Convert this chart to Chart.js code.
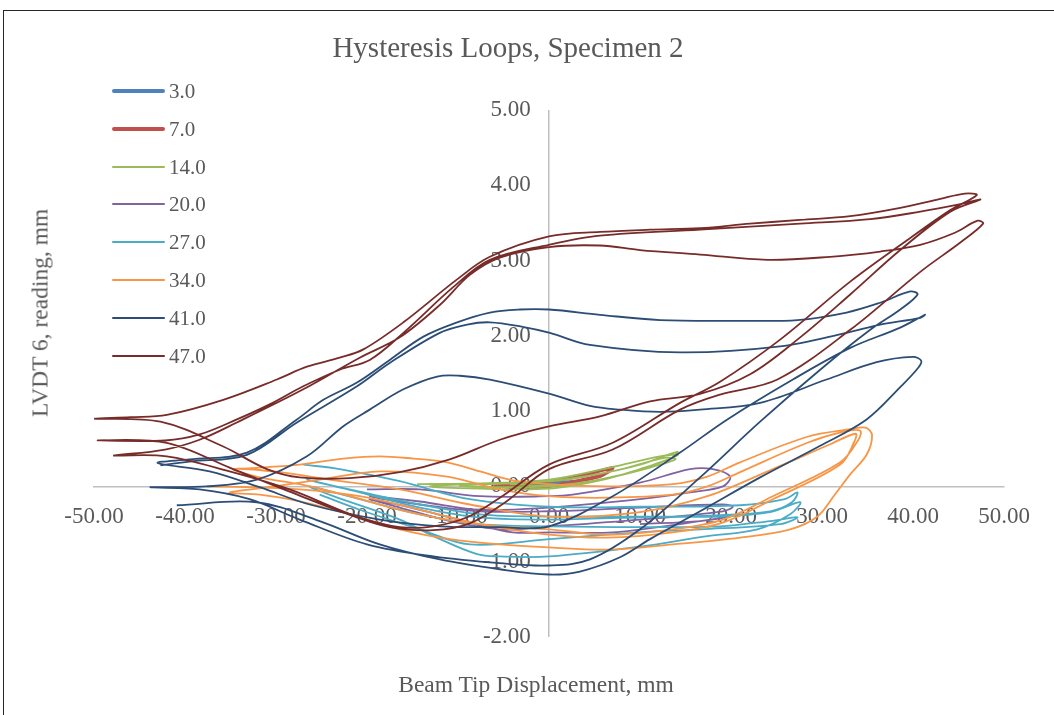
<!DOCTYPE html>
<html>
<head>
<meta charset="utf-8">
<script src="https://cdn.jsdelivr.net/npm/chart.js@4.4.1/dist/chart.umd.min.js"></script>
<style>
  html, body { margin: 0; padding: 0; background: #fff; }
  #page { position: relative; width: 1054px; height: 715px; overflow: hidden;
          font-family: "Liberation Serif", "Times New Roman", serif; color: #595959; }
  #frame { position: absolute; left: 3px; top: 10px; width: 1100px; height: 800px; border: 1px solid #262626; }
  canvas { position: absolute; left: 0; top: 0; }
  .txt { position: absolute; white-space: nowrap; transform: translate(-50%, -50%); }
  #title { left: 508px; top: 47px; font-size: 29px; }
  #xtitle { left: 536px; top: 684px; font-size: 23.5px; }
  #ytitle { left: 40px; top: 313px; font-size: 23.5px; transform: translate(-50%, -50%) rotate(-90deg); }
  .leg { position: absolute; left: 112px; height: 30px; display: flex; align-items: center; font-size: 21px; }
  .leg i { display: block; width: 53px; margin-right: 4px; border-radius: 2px; }
</style>
</head>
<body>
<div id="page">
  <div id="frame"></div>
  <canvas id="chart" width="1054" height="715"></canvas>
  <div id="title" class="txt">Hysteresis Loops, Specimen 2</div>
  <div id="xtitle" class="txt">Beam Tip Displacement, mm</div>
  <div id="ytitle" class="txt">LVDT 6, reading, mm</div>
  <div id="legend"></div>
</div>
<script>
// Serien-Namen, Farben und Linienstärken (Reihenfolge wie in der Legende)
const seriesNames  = ['3.0', '7.0', '14.0', '20.0', '27.0', '34.0', '41.0', '47.0'];
const seriesColors = ['#4F81BD', '#C0504D', '#9BBB59', '#8064A2', '#4BACC6', '#F79646', '#2C4D75', '#772C2A'];
const seriesWidths = [3, 3, 1.8, 1.8, 1.8, 1.8, 1.8, 1.8];

// Achsen-Ticks
const xTicks = [-50, -40, -30, -20, -10, 0, 10, 20, 30, 40, 50];
const yTicks = [-2, -1, 0, 1, 2, 3, 4, 5];

// Messpunkte [Beam Tip Displacement, LVDT 6] je Zyklus
const loop3 = [[-3.0,0.02],[0,0.04],[3.0,0.07],[2.0,0.05],[0,0.01],[-3.0,0.0],[-2.5,0.02]];

const loop7 = [[-5.4,0.03],[0,0.07],[3.4,0.13],[7.0,0.25],[6.2,0.17],[2.9,0.07],[0,0.00],[-4.3,-0.01],
  [-5.9,0.01],[-2.1,0.04],[2.3,0.11],[6.7,0.23],[5.6,0.13],[1.2,0.03]];

const loop14 = [[-14.5,0.03],[-7.6,0.04],[0,0.07],[5.6,0.17],[10.0,0.29],[14.1,0.46],[13.5,0.38],[10.0,0.23],
  [5.6,0.08],[0,-0.03],[-7.6,-0.03],[-13.1,0.00],[-8.7,0.03],[0,0.09],[6.7,0.25],[12.2,0.40],[14.2,0.42],
  [12.2,0.32],[7.8,0.15],[1.2,0.01],[-5.4,-0.01],[-9.8,0.01],[-4.3,0.04],[1.2,0.08],[7.3,0.21],[12.7,0.38],
  [13.9,0.36],[11.1,0.25],[5.6,0.09],[0,0.01],[-4.3,0.03]];

const loop20 = [[-20.0,-0.04],[-14.2,-0.04],[-7.6,-0.13],[0,-0.13],[2.6,-0.11],[10.0,0.05],[15.5,0.23],[18.0,0.23],
  [19.9,0.13],[19.1,0.00],[15.5,-0.08],[10.0,-0.17],[0,-0.28],[-7.6,-0.31],[-14.2,-0.20],[-19.7,-0.13],
  [-14.2,-0.24],[-7.6,-0.33],[0,-0.33],[10.0,-0.28],[19.1,-0.24],[20.2,-0.27],[19.1,-0.33],[10.0,-0.44],
  [0,-0.53],[-5.4,-0.57],[-10.9,-0.46],[-16.4,-0.28],[-19.7,-0.17],[-14.2,-0.31],[-8.7,-0.48],[-4.0,-0.61],
  [0,-0.61],[7.0,-0.61],[14.4,-0.50],[19.9,-0.40],[16.6,-0.46],[10.0,-0.50]];

const loop27 = [[-27.0,0.29],[-23.0,0.23],[-16.4,0.07],[-8.7,-0.17],[0,-0.27],[10.0,-0.27],[21.0,-0.25],[25.9,-0.17],
  [27.3,-0.08],[26.7,-0.21],[24.3,-0.33],[18.8,-0.38],[10.0,-0.41],[0,-0.44],[-7.6,-0.41],[-14.2,-0.28],
  [-20.8,-0.08],[-26.6,0.09],[-20.8,-0.07],[-14.2,-0.24],[-7.6,-0.37],[0,-0.40],[10.0,-0.40],[18.8,-0.40],
  [24.3,-0.34],[27.6,-0.21],[26.5,-0.37],[22.9,-0.57],[17.4,-0.66],[10.0,-0.80],[0,-0.93],[-5.4,-0.93],
  [-7.9,-0.90],[-12.7,-0.66],[-16.4,-0.44],[-23.7,-0.13],[-26.3,0.00],[-20.8,-0.17],[-14.2,-0.37],[-7.6,-0.50],
  [0,-0.53],[10.0,-0.54],[18.8,-0.53],[24.3,-0.46],[27.3,-0.41],[25.4,-0.50],[16.6,-0.57],[10.0,-0.61],
  [0,-0.70],[-8.7,-0.77],[-14.2,-0.57],[-20.8,-0.31],[-25.2,-0.11]];

const loop34 = [[-34.7,0.23],[-31.8,0.25],[-27.4,0.29],[-22.6,0.37],[-18.6,0.40],[-14.9,0.37],[-11.2,0.32],[-7.6,0.20],
  [-4.0,0.08],[0,0.03],[6.4,0.00],[13.6,0.03],[17.4,0.13],[21.0,0.32],[28.4,0.66],[33.1,0.76],[34.8,0.78],
  [35.5,0.68],[34.9,0.42],[33.1,0.16],[31.4,-0.11],[29.5,-0.40],[26.5,-0.57],[21.0,-0.68],[13.6,-0.77],
  [6.4,-0.84],[0,-0.81],[-5.4,-0.77],[-10.9,-0.70],[-16.4,-0.57],[-21.9,-0.37],[-27.4,-0.20],[-31.8,-0.11],
  [-35.1,-0.08],[-30.7,-0.01],[-25.2,0.09],[-18.6,0.20],[-11.2,0.13],[-5.4,-0.04],[0,-0.13],[6.4,-0.15],
  [13.6,-0.11],[17.4,0.00],[21.0,0.19],[28.4,0.58],[32.5,0.73],[34.2,0.74],[34.0,0.62],[32.0,0.32],
  [24.6,-0.13],[19.1,-0.44],[13.6,-0.57],[6.4,-0.64],[0,-0.57],[-5.4,-0.53],[-11.2,-0.44],[-16.4,-0.31],
  [-21.9,-0.13],[-27.4,0.03],[-31.8,0.12],[-34.7,0.23],[-29.6,0.19],[-24.1,0.09],[-16.4,-0.04],[-8.7,-0.24],
  [0,-0.40],[10.0,-0.34],[17.4,-0.13],[24.6,0.23],[30.9,0.56],[33.7,0.70],[33.5,0.58],[32.0,0.29],
  [24.6,-0.17],[19.1,-0.48],[13.6,-0.61],[6.4,-0.68],[0,-0.64],[-7.6,-0.50],[-14.2,-0.31],[-20.8,-0.13],
  [-27.4,-0.04],[-32.9,-0.01],[-37.6,0.00]];

const loop41 = [[-40.9,-0.25],[-32.1,-0.21],
  [-25.2,-0.46],[-18.6,-0.77],[-12.0,-0.97],[-5.4,-1.10],[0,-1.17],[3.4,-1.13],[7.8,-0.94],[11.1,-0.70],
  [16.6,-0.33],[23.2,0.12],[29.8,0.54],[34.9,0.89],[38.6,1.32],[40.6,1.58],[40.9,1.67],
  [40.0,1.72],[36.0,1.65],[30.5,1.42],[23.2,1.11],[16.6,1.02],[12.2,0.99],[7.8,1.02],[4.5,1.07],[0.1,1.23],
  [-6.5,1.42],[-9.8,1.47],[-12.3,1.46],[-16.0,1.29],[-19.7,1.02],[-22.6,0.80],[-26.6,0.40],[-32.1,0.09],
  [-37.6,0.00],[-43.8,-0.01],
  [-38.4,-0.04],[-32.9,-0.17],[-27.4,-0.44],[-20.0,-0.77],[-12.7,-0.93],[-5.4,-1.02],[0,-1.05],[4.5,-0.97],
  [10.0,-0.57],[16.6,0.12],[23.2,0.86],[29.8,1.55],[35.3,2.08],[38.6,2.35],[40.5,2.55],
  [39.7,2.59],[36.4,2.44],[32.7,2.31],[27.3,2.21],[21.0,2.20],[12.2,2.21],[5.6,2.28],[0,2.35],[-3.2,2.35],
  [-6.5,2.31],[-10.1,2.18],[-13.8,1.99],[-17.5,1.68],[-21.1,1.38],[-24.8,1.15],[-27.7,0.89],[-33.2,0.45],
  [-39.5,0.36],[-43.0,0.31],
  [-37.3,0.20],[-31.8,-0.01],[-26.3,-0.24],[-18.6,-0.44],[-12.0,-0.53],[-5.4,-0.54],[0,-0.53],[7.0,-0.13],
  [14.4,0.45],[19.6,0.89],[26.8,1.42],[33.1,1.84],[38.6,2.11],[41.3,2.28],
  [40.8,2.24],[36.4,2.15],[32.7,2.04],[25.4,1.86],[14.4,1.78],[4.5,1.88],[0.1,2.04],[-2.9,2.12],[-6.5,2.18],
  [-9.0,2.15],[-12.0,2.04],[-17.5,1.64],[-21.1,1.33],[-27.7,0.85],[-33.2,0.42],[-39.5,0.33],[-42.7,0.28]];

const loop47 = [[-47.9,0.41],[-42.0,0.40],[-35.1,0.20],[-28.5,-0.04],[-21.1,-0.40],[-16.4,-0.54],[-12.7,-0.53],
  [-9.0,-0.41],[-5.4,-0.15],[0,0.29],[7.0,0.58],[14.4,1.11],[18.8,1.39],[25.4,1.95],[33.1,2.72],[39.7,3.30],
  [44.1,3.67],[47.0,3.87],
  [45.7,3.89],[43.0,3.82],[38.6,3.70],[33.1,3.59],[27.6,3.54],[22.1,3.49],[16.6,3.43],[11.1,3.41],[5.6,3.38],
  [0,3.32],[-6.5,3.05],[-10.1,2.75],[-16.0,2.18],[-20.4,1.82],[-23.0,1.71],[-26.6,1.59],[-29.9,1.42],
  [-35.8,1.15],[-42.0,0.95],[-46.0,0.92],[-50.0,0.90],
  [-42.7,0.86],[-35.8,0.53],[-31.0,0.23],[-27.4,0.12],[-21.9,0.11],[-16.4,0.19],[-10.9,0.36],[-5.4,0.62],
  [0.1,0.80],[5.6,0.93],[11.1,1.13],[16.6,1.23],[22.1,1.49],[27.6,1.98],[33.1,2.55],[38.6,3.14],[44.1,3.65],
  [47.4,3.81],
  [45.2,3.75],[40.8,3.65],[35.3,3.55],[27.6,3.49],[16.6,3.41],[5.6,3.33],[0,3.21],[-6.5,3.01],[-10.5,2.65],
  [-16.0,2.04],[-19.7,1.68],[-23.0,1.55],[-27.0,1.33],[-30.7,1.09],[-34.3,0.89],[-38.4,0.69],[-42.2,0.61],
  [-49.6,0.61],
  [-42.0,0.58],[-35.1,0.25],[-28.5,-0.07],[-21.1,-0.41],[-17.5,-0.54],[-12.7,-0.58],[-8.7,-0.49],[-4.8,-0.21],
  [0,0.23],[7.0,0.49],[14.4,1.02],[18.8,1.22],[25.1,1.42],[33.1,2.08],[40.8,2.85],[45.2,3.24],[47.7,3.49],
  [47.1,3.53],[44.6,3.37],[40.8,3.21],[36.4,3.12],[30.9,3.05],[24.0,3.01],[16.6,3.08],[10.0,3.14],[5.6,3.20],
  [0,3.18],[-5.4,3.04],[-8.7,2.81],[-12.0,2.41],[-16.4,1.98],[-20.8,1.71],[-27.0,1.29],[-34.3,0.85],
  [-38.4,0.62],[-42.2,0.49],[-47.9,0.41]];

const seriesData = [loop3, loop7, loop14, loop20, loop27, loop34, loop41, loop47];

// Legende als HTML aufbauen
const legendTops = [91, 129, 167, 204, 242, 280, 318, 356];
const legendEl = document.getElementById('legend');
seriesNames.forEach((name, i) => {
  const row = document.createElement('div');
  row.className = 'leg';
  row.style.top = (legendTops[i] - 15) + 'px';
  row.innerHTML = `<i style="background:${seriesColors[i]};height:${i < 2 ? 3.5 : 2}px"></i>${name}`;
  legendEl.appendChild(row);
});

const datasets = seriesData.map((pts, i) => ({
  label: seriesNames[i],
  data: pts.map(p => ({ x: p[0], y: p[1] })),
  showLine: true,
  borderColor: seriesColors[i],
  backgroundColor: seriesColors[i],
  borderWidth: seriesWidths[i],
  pointRadius: 0,
  tension: 0.35,
  fill: false,
  order: seriesData.length - i
}));

const tickFont = { family: '"Liberation Serif", "Times New Roman", serif', size: 23 };

new Chart(document.getElementById('chart'), {
  type: 'scatter',
  data: { datasets },
  options: {
    responsive: false,
    animation: false,
    devicePixelRatio: 1,
    layout: { padding: { left: 94, right: 50, top: 110, bottom: 78 } },
    plugins: { legend: { display: false }, title: { display: false }, tooltip: { enabled: false } },
    scales: {
      x: {
        type: 'linear',
        min: -50, max: 50,
        position: { y: 0 },
        afterBuildTicks: s => { s.ticks = xTicks.map(v => ({ value: v })); },
        ticks: { color: '#595959', font: tickFont, padding: 17, maxRotation: 0, autoSkip: false,
                 callback: v => v.toFixed(2) },
        grid: {
          display: true, drawTicks: false, lineWidth: 1.5,
          color: c => (c.tick && c.tick.value === 0) ? '#BFBFBF' : 'rgba(0,0,0,0)'
        },
        border: { display: true, color: '#BFBFBF', width: 1.5 }
      },
      y: {
        type: 'linear',
        min: -2, max: 5,
        position: { x: -2.0 },
        afterBuildTicks: s => { s.ticks = yTicks.map(v => ({ value: v })); },
        ticks: { color: '#595959', font: tickFont, padding: 0, autoSkip: false,
                 callback: v => v.toFixed(2) },
        grid: { display: false, drawTicks: false },
        border: { display: false }
      }
    }
  }
});
</script>
</body>
</html>
